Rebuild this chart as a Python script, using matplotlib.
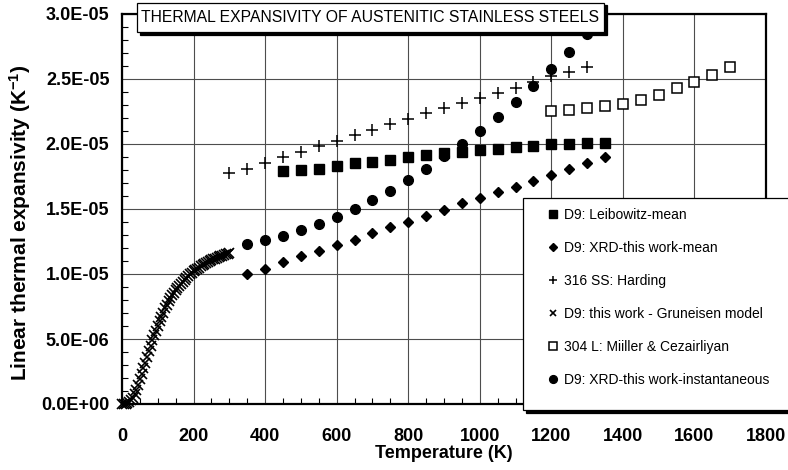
import numpy as np
import matplotlib.pyplot as plt
from matplotlib.patches import Rectangle
from matplotlib.ticker import MultipleLocator, FuncFormatter

plt.rcParams['font.family'] = ['Liberation Sans', 'DejaVu Sans']
plt.rcParams['mathtext.default'] = 'regular'

W, H = 788, 470

# *** DATA : expansivity values in units of 1E-05 per K
LEIB_T = [450, 500, 550, 600, 650, 700, 750, 800, 850, 900, 950, 1000, 1050,
          1100, 1150, 1200, 1250, 1300, 1350]
LEIB_A = [1.79, 1.80, 1.81, 1.83, 1.85, 1.86, 1.88, 1.90, 1.915, 1.93, 1.94,
          1.95, 1.965, 1.98, 1.987, 1.997, 2.00, 2.005, 2.01]

XRD_T = [350, 400, 450, 500, 550, 600, 650, 700, 750, 800, 850, 900, 950,
         1000, 1050, 1100, 1150, 1200, 1250, 1300, 1350]
XRD_MEAN = [1.00, 1.04, 1.09, 1.135, 1.18, 1.225, 1.265, 1.313, 1.36, 1.40,
            1.446, 1.495, 1.543, 1.587, 1.627, 1.672, 1.715, 1.762, 1.808,
            1.851, 1.898]

HARD_T = [300, 350, 400, 450, 500, 550, 600, 650, 700, 750, 800, 850, 900,
          950, 1000, 1050, 1100, 1150, 1200, 1250, 1300]
HARD_A = [1.775, 1.81, 1.855, 1.90, 1.94, 1.985, 2.02, 2.07, 2.11, 2.15,
          2.195, 2.235, 2.275, 2.313, 2.353, 2.39, 2.43, 2.48, 2.52, 2.556,
          2.59]

GRUN_T = [0, 5, 10, 15, 20, 25, 30, 35, 40, 45, 50, 55, 60, 65, 70, 75, 80,
          85, 90, 95, 100, 105, 110, 115, 120, 125, 130, 135, 140, 145, 150,
          155, 160, 165, 170, 175, 180, 185, 190, 195, 200, 205, 210, 215, 220,
          225, 230, 235, 240, 245, 250, 255, 260, 265, 270, 275, 280, 285, 290,
          295, 300]
GRUN_A = [0.0, 0.0, 0.002, 0.006, 0.014, 0.028, 0.05, 0.075, 0.11, 0.148,
          0.19, 0.233, 0.275, 0.318, 0.36, 0.405, 0.45, 0.49, 0.528, 0.565,
          0.60, 0.635, 0.668, 0.70, 0.735, 0.762, 0.79, 0.812, 0.835, 0.855,
          0.875, 0.893, 0.91, 0.926, 0.942, 0.957, 0.972, 0.985, 0.997, 1.008,
          1.02, 1.03, 1.04, 1.05, 1.06, 1.068, 1.076, 1.084, 1.092, 1.099,
          1.106, 1.112, 1.118, 1.124, 1.13, 1.135, 1.14, 1.145, 1.15, 1.154,
          1.158]

MILL_T = [1200, 1250, 1300, 1350, 1400, 1450, 1500, 1550, 1600, 1650, 1700]
MILL_A = [2.25, 2.26, 2.275, 2.29, 2.31, 2.34, 2.38, 2.43, 2.48, 2.53, 2.595]

INST_T = [350, 400, 450, 500, 550, 600, 650, 700, 750, 800, 850, 900, 950,
          1000, 1050, 1100, 1150, 1200, 1250, 1300]
INST_A = [1.23, 1.265, 1.295, 1.338, 1.385, 1.44, 1.50, 1.57, 1.64, 1.72,
          1.805, 1.91, 2.00, 2.10, 2.21, 2.325, 2.446, 2.58, 2.71, 2.845]

LABELS = ['D9: Leibowitz-mean', 'D9: XRD-this work-mean', '316 SS: Harding',
          'D9: this work - Gruneisen model', '304 L: Miiller & Cezairliyan',
          'D9: XRD-this work-instantaneous']
TITLE = 'THERMAL EXPANSIVITY OF AUSTENITIC STAINLESS STEELS'


def fig_xy(x, y):
  # pixel position (from top-left) -> figure fraction
  return x / W, 1 - y / H


def boxed(ax, fig, x0, y0, x1, y1, shadow=3, z=8):
  # white box with a black drop shadow, pixel coords
  for dx, fc in ((shadow, 'black'), (0, 'white')):
    r = Rectangle(fig_xy(x0 + dx, y1 + dx), (x1 - x0) / W, (y1 - y0) / H,
                  transform=fig.transFigure, facecolor=fc, edgecolor='black',
                  linewidth=0.9, clip_on=False, zorder=z)
    ax.add_artist(r)


def main():
  fig = plt.figure(figsize=(W / 100, H / 100), dpi=100)
  ax = fig.add_axes([122 / W, 1 - 404 / H, 644 / W, 390 / H])

  s = 1e-5
  kw = dict(linestyle='none', color='black', zorder=3, clip_on=False)
  h1, = ax.plot(LEIB_T, np.array(LEIB_A) * s, marker='s', markersize=6.5, **kw)
  h2, = ax.plot(XRD_T, np.array(XRD_MEAN) * s, marker='D', markersize=5.4, **kw)
  h3, = ax.plot(HARD_T, np.array(HARD_A) * s, marker='+', markersize=8,
                markeredgewidth=1.1, **kw)
  h4, = ax.plot(GRUN_T, np.array(GRUN_A) * s, marker='x', markersize=7,
                markeredgewidth=1.2, **kw)
  h5, = ax.plot(MILL_T, np.array(MILL_A) * s, marker='s', markersize=6.5,
                markerfacecolor='white', markeredgewidth=1.1, **kw)
  h6, = ax.plot(INST_T, np.array(INST_A) * s, marker='o', markersize=7, **kw)

  ax.set_xlim(0, 1800)
  ax.set_ylim(0, 3e-5)
  ax.xaxis.set_major_locator(MultipleLocator(200))
  ax.xaxis.set_minor_locator(MultipleLocator(50))
  ax.yaxis.set_major_locator(MultipleLocator(5e-6))
  ax.yaxis.set_minor_locator(MultipleLocator(1e-6))
  ax.yaxis.set_major_formatter(FuncFormatter(lambda v, p: f'{v:.1E}'))
  ax.grid(True, which='major', color='0.3', linewidth=0.8)
  ax.set_axisbelow(True)

  ax.tick_params(which='both', direction='in', color='black')
  ax.tick_params(which='major', length=0, labelsize=13)
  ax.tick_params(which='minor', length=4, width=0.8)
  ax.tick_params(axis='x', which='major', pad=17)
  ax.tick_params(axis='y', which='major', pad=9)
  for lab in ax.get_xticklabels() + ax.get_yticklabels():
    lab.set_fontweight('bold')
  for sp in ax.spines.values():
    sp.set_linewidth(1.6)

  ax.set_xlabel('Temperature (K)', fontsize=13, fontweight='bold')
  ax.xaxis.set_label_coords(0.5, -0.105)
  ax.set_ylabel('Linear thermal expansivity (K$^{-1}$)', fontsize=15,
                fontweight='bold')
  ax.yaxis.set_label_coords(-0.138, 0.464)

  # legend box and legend
  boxed(ax, fig, 523, 198, 805, 410, shadow=3)
  leg = ax.legend([h1, h2, h3, h4, h5, h6], LABELS, loc='upper left',
                  bbox_to_anchor=fig_xy(547, 208),
                  bbox_transform=fig.transFigure, frameon=False, fontsize=10,
                  borderpad=0, borderaxespad=0, handlelength=0.8,
                  handletextpad=0.4, labelspacing=1.37, markerscale=0.8)
  leg.set_zorder(10)
  leg.legend_handles[3].set_markersize(4.5)

  # title box
  boxed(ax, fig, 137, 3, 604, 32, shadow=2.5)
  tx, ty = fig_xy(141, 17.5)
  ax.text(tx, ty, TITLE, transform=fig.transFigure, fontsize=11.3,
          ha='left', va='center', zorder=11)

  fig.savefig('out.png', dpi=100)


if __name__ == '__main__':
  main()
